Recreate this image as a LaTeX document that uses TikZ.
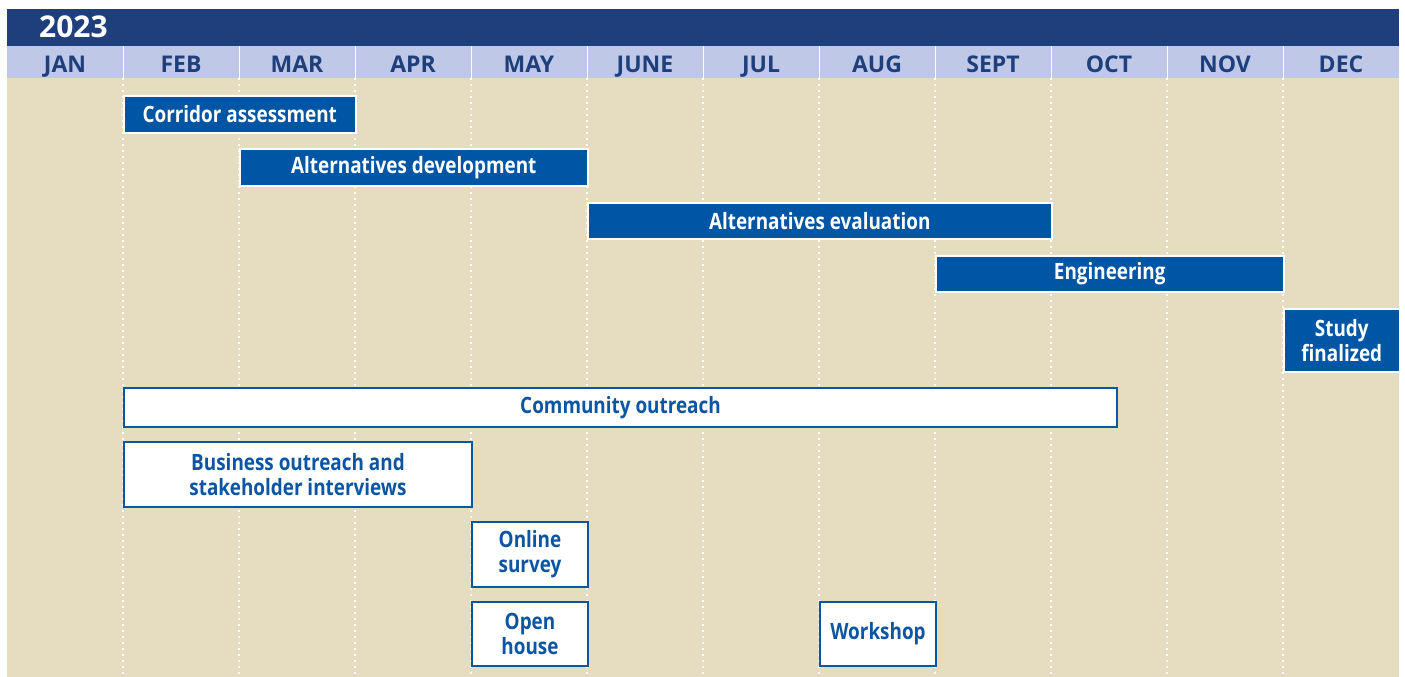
\documentclass[tikz,border=0pt]{standalone}
\usepackage{fontspec}
\setmainfont{Open Sans}
\newfontfamily\narrowfont[FakeStretch=0.84]{Open Sans}
\definecolor{headblue}{HTML}{1E3F7B}
\definecolor{monthblue}{HTML}{BFC8E6}
\definecolor{sand}{HTML}{E6DDC1}
\definecolor{barblue}{HTML}{0055A5}
\definecolor{textblue}{HTML}{0B56A4}
\begin{document}
\begin{tikzpicture}[x=1pt, y=-1pt,
    taskbar/.style={draw=white, line width=1.5pt, fill=barblue, text=white, anchor=north west,
      font=\narrowfont\bfseries\fontsize{22.5}{25}\selectfont, align=center, inner sep=0pt},
    outbox/.style={draw=textblue, line width=2pt, fill=white, text=textblue, anchor=north west,
      font=\narrowfont\bfseries\fontsize{22.5}{25}\selectfont, align=center, inner sep=0pt},
    month/.style={text=headblue, font=\bfseries\fontsize{23}{26}\selectfont, inner sep=0pt, anchor=base}]
    \useasboundingbox (0,0) rectangle (1405,677);

    % background and header
    \fill[sand] (7,78) rectangle (1399,677);
    \fill[headblue] (7,9) rectangle (1399,46);
    \fill[monthblue] (7,46) rectangle (1399,78);
    \node[anchor=west, text=white, font=\bfseries\fontsize{30}{32}\selectfont, inner sep=0pt] (year) at (39,27) {2023};

    \foreach \m [count=\i from 0] in {JAN, FEB, MAR, APR, MAY, JUNE, JUL, AUG, SEPT, OCT, NOV, DEC}
        \node[month] (m\i) at (65 + 116*\i, 72.5) {\m};

    % column rules
    \foreach \i in {1, ..., 11} {
        \draw[white, line width=1pt] (7 + 116*\i, 46) -- (7 + 116*\i, 78);
        \draw[white, line width=1.6pt, dash pattern=on 1.6pt off 4.4pt] (7 + 116*\i, 78) -- (7 + 116*\i, 677);
    }

    % project tasks
    \node[taskbar, minimum width=232pt, minimum height=37pt] (corridor) at (123,95) {Corridor assessment};
    \node[taskbar, minimum width=348pt, minimum height=37pt] (altdev) at (239,148) {Alternatives development};
    \node[taskbar, minimum width=464pt, minimum height=36pt] (alteval) at (587,202) {Alternatives evaluation};
    \node[taskbar, minimum width=348pt, minimum height=36pt] (engineering) at (935,255) {Engineering};
    \node[taskbar, minimum width=116pt, minimum height=63pt] (final) at (1283,308) {Study\\finalized};

    % outreach
    \node[outbox, minimum width=993pt, minimum height=39pt] (community) at (123,387) {Community outreach};
    \node[outbox, minimum width=348pt, minimum height=65pt] (business) at (123,441) {Business outreach and\\stakeholder interviews};
    \node[outbox, minimum width=116pt, minimum height=65pt] (survey) at (471,521) {Online\\survey};
    \node[outbox, minimum width=116pt, minimum height=64pt] (openhouse) at (471,601) {Open\\house};
    \node[outbox, minimum width=116pt, minimum height=64pt] (workshop) at (819,601) {Workshop};
\end{tikzpicture}
\end{document}
